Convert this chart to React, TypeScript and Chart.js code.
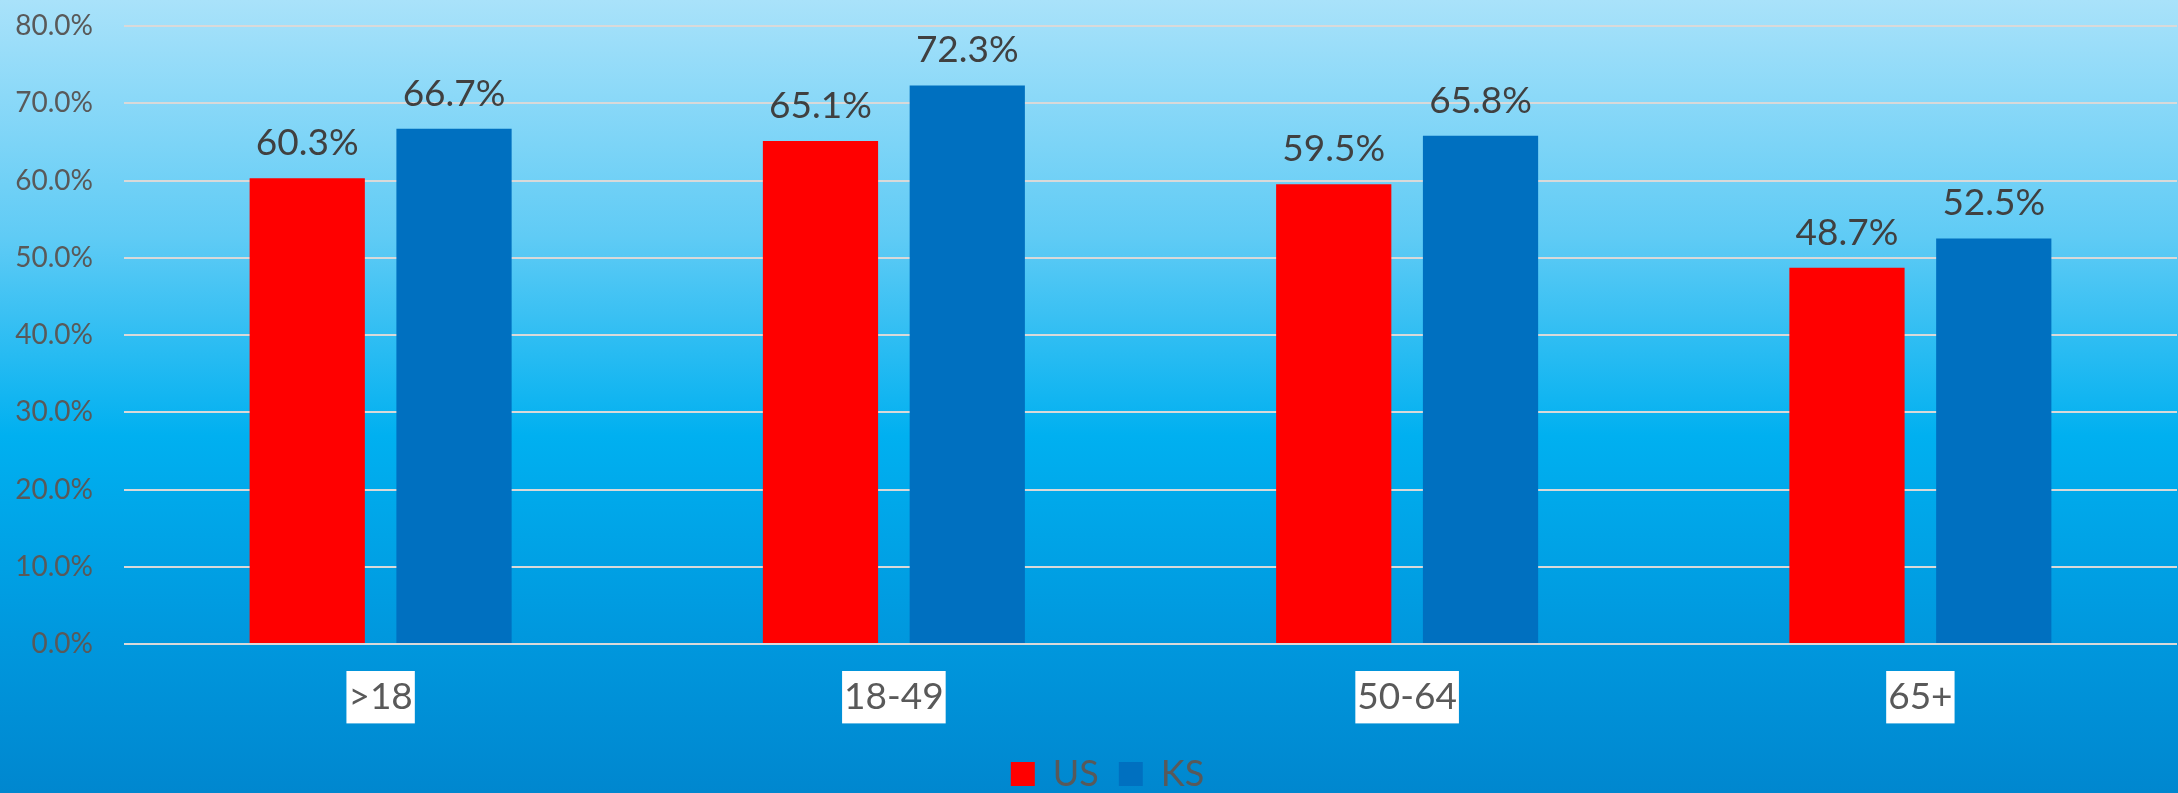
import React, { useEffect, useRef } from "react";
import { Chart, registerables } from "chart.js";

Chart.register(...registerables);

const categories = [">18", "18-49", "50-64", "65+"];
const usValues = [60.3, 65.1, 59.5, 48.7];
const ksValues = [66.7, 72.3, 65.8, 52.5];
const seriesNames = ["US", "KS"];
const yTicks = [0, 10, 20, 30, 40, 50, 60, 70, 80];

const FONT = "Lato, 'Open Sans', sans-serif";

const valueLabels = {
  id: "valueLabels",
  afterDatasetsDraw(chart: any) {
    const ctx = chart.ctx;
    ctx.save();
    ctx.font = `37px ${FONT}`;
    ctx.fillStyle = "#404040";
    ctx.textAlign = "center";
    ctx.textBaseline = "alphabetic";
    chart.data.datasets.forEach((ds: any, di: number) => {
      const meta = chart.getDatasetMeta(di);
      meta.data.forEach((bar: any, i: number) => {
        ctx.fillText(Number(ds.data[i]).toFixed(1) + "%", bar.x, bar.y - 23);
      });
    });
    ctx.restore();
  },
};

const legendShift = {
  id: "legendShift",
  afterLayout(chart: any) {
    if (chart.legend) {
      chart.legend.left += 19;
      chart.legend.right += 19;
    }
  },
};

export default function App() {
  const ref = useRef<HTMLCanvasElement | null>(null);
  useEffect(() => {
    if (!ref.current) return;
    const chart = new Chart(ref.current, {
      type: "bar",
      data: {
        labels: categories,
        datasets: [
          {
            label: seriesNames[0],
            data: usValues,
            backgroundColor: "#FF0000",
            borderColor: "#FF0000",
            borderWidth: 0,
          },
          {
            label: seriesNames[1],
            data: ksValues,
            backgroundColor: "#0070C0",
            borderColor: "#0070C0",
            borderWidth: 0,
          },
        ],
      },
      options: {
        responsive: false,
        animation: false,
        maintainAspectRatio: false,
        datasets: {
          bar: { categoryPercentage: 0.572, barPercentage: 0.785 },
        },
        layout: { padding: { left: 0, right: 1, top: 26, bottom: 0 } },
        plugins: {
          legend: {
            position: "bottom",
            labels: {
              boxWidth: 24,
              boxHeight: 24,
              padding: 20,
              color: "#595959",
              font: { family: FONT, size: 36, lineHeight: 1 },
            },
          },
          tooltip: { enabled: false },
        },
        scales: {
          x: {
            grid: { display: false, drawTicks: false },
            border: { display: false },
            afterFit: (scale: any) => {
              scale.height = 92;
            },
            ticks: {
              color: "#595959",
              font: { family: FONT, size: 37 },
              padding: 31,
              showLabelBackdrop: true,
              backdropColor: "#FFFFFF",
              backdropPadding: { top: 4, bottom: 4, left: 2, right: 2 },
            },
          },
          y: {
            min: 0,
            max: 80,
            afterBuildTicks: (scale: any) => {
              scale.ticks = yTicks.map((v) => ({ value: v }));
            },
            afterFit: (scale: any) => {
              scale.width = 124;
              scale.paddingTop = 0;
              scale.paddingBottom = 0;
            },
            grid: { color: "#D9D9D9", lineWidth: 2, drawTicks: false },
            border: { display: false },
            ticks: {
              color: "#595959",
              font: { family: FONT, size: 28 },
              padding: 31,
              callback: (v: any) => Number(v).toFixed(1) + "%",
            },
          },
        },
      },
      plugins: [valueLabels, legendShift],
    });
    return () => chart.destroy();
  }, []);

  return (
    <div
      style={{
        position: "absolute",
        left: 0,
        top: 0,
        width: 2178,
        height: 793,
        overflow: "hidden",
        background:
          "linear-gradient(180deg, #a9e2fa 0%, #5fcbf5 30%, #00b0f0 55%, #0098de 80%, #0087cf 100%)",
      }}
    >
      <canvas ref={ref} width={2178} height={802} style={{ display: "block" }} />
    </div>
  );
}
